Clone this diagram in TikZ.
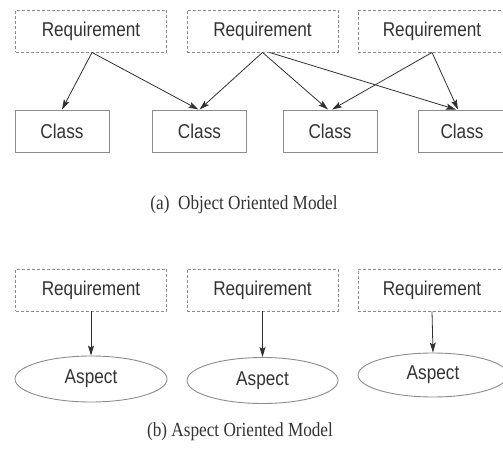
\documentclass[tikz,border=0pt]{standalone}
\usepackage{fontspec}
\usepackage{graphicx}
\setmainfont{Liberation Serif}
\newfontfamily\helv{Liberation Sans}
\usetikzlibrary{arrows.meta,shapes.geometric}
\newcommand{\sqz}[1]{\scalebox{0.86}[1]{#1}}
\definecolor{linegray}{HTML}{8C8C8C}
\definecolor{txtgray}{HTML}{333333}
\definecolor{arrgray}{HTML}{303030}
\tikzset{
  reqbox/.style={draw=linegray, dash pattern=on 3pt off 2pt, line width=0.9pt, rectangle,
     minimum width=151pt, minimum height=42pt, inner sep=0pt, text=txtgray,
     font=\helv\fontsize{20}{22}\selectfont},
  clsbox/.style={draw=linegray, line width=0.9pt, rectangle,
     minimum width=94pt, minimum height=42pt, inner sep=0pt, text=txtgray,
     font=\helv\fontsize{20}{22}\selectfont},
  aspell/.style={draw=linegray, line width=0.9pt, ellipse,
     minimum width=152pt, minimum height=46pt, inner sep=0pt, text=txtgray,
     font=\helv\fontsize{20}{22}\selectfont},
  caption/.style={text=txtgray, inner sep=0pt, font=\fontsize{20}{22}\selectfont},
  conn/.style={draw=arrgray, line width=0.8pt, -{Stealth[length=10pt,width=6pt,inset=2pt]}}
}
\begin{document}
\begin{tikzpicture}[x=1pt,y=-1pt]
\useasboundingbox (0,0) rectangle (503,454);
% (a) object oriented
\node[reqbox] (r1) at (91,31) {\sqz{Requirement}};
\node[reqbox] (r2) at (262.5,31) {\sqz{Requirement}};
\node[reqbox, minimum width=148pt] (r3) at (432,31) {\sqz{Requirement}};
\node[clsbox] (c1) at (62,131) {\sqz{Class}};
\node[clsbox] (c2) at (199.5,131) {\sqz{Class}};
\node[clsbox] (c3) at (330,131) {\sqz{Class}};
\node[clsbox, minimum width=88pt] (c4) at (462,131) {\sqz{Class}};
\draw[conn] ([xshift=1pt]r1.south) -- (c1.north);
\draw[conn] ([xshift=1pt]r1.south) -- ([xshift=-1pt]c2.north);
\draw[conn] (r2.south) -- (c2.north);
\draw[conn] (r2.south) -- ([xshift=-2pt]c3.north);
\draw[conn] ([xshift=7pt]r2.south) -- ([xshift=-6pt]c4.north);
\draw[conn] (r3.south) -- ([xshift=2pt]c3.north);
\draw[conn] (r3.south) -- ([xshift=-4pt]c4.north);
\node[caption] (capa) at (244,205) {\sqz{(a)\ \ Object Oriented Model}};
% (b) aspect oriented
\node[reqbox] (s1) at (91,290) {\sqz{Requirement}};
\node[reqbox] (s2) at (262.5,290) {\sqz{Requirement}};
\node[reqbox, minimum width=148pt] (s3) at (432,290) {\sqz{Requirement}};
\node[aspell] (a1) at (91,379) {\sqz{Aspect}};
\node[aspell, minimum width=151pt] (a2) at (262.5,380.5) {\sqz{Aspect}};
\node[aspell, minimum width=150pt, minimum height=44pt] (a3) at (433,375) {\sqz{Aspect}};
\draw[conn] (s1.south) -- (a1.north);
\draw[conn] (s2.south) -- (a2.north);
\draw[conn] (s3.south) -- (a3.north);
\node[caption] (capb) at (240,432) {\sqz{(b) Aspect Oriented Model}};
\end{tikzpicture}
\end{document}
